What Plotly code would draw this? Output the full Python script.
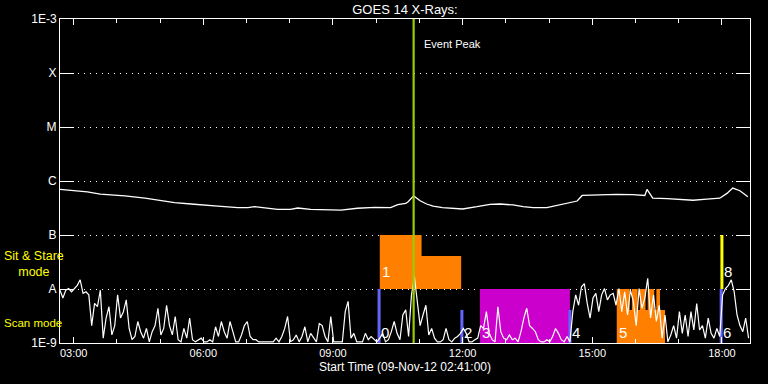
import math
import pandas as pd
import plotly.graph_objects as go

DAY = "2012-11-09 "

# ---------------- data ----------------
# GOES long channel (1-8 A), W/m^2
hi_time = ["02:41", "02:52", "03:19", "03:37", "04:11", "04:39", "04:57", "05:20", "05:43", "06:02",
           "06:20", "06:48", "07:02", "07:11", "07:25", "07:43", "08:01", "08:11", "08:29", "08:57",
           "09:11", "09:34", "09:58", "10:20", "10:30", "10:41", "10:44", "10:52", "11:01", "11:10",
           "11:19", "11:32", "12:00", "12:20", "12:38", "12:52", "13:10", "13:24", "13:38", "13:57",
           "14:11", "14:25", "14:39", "14:46", "15:11", "15:34", "15:56", "16:13", "16:16", "16:20",
           "16:24", "16:44", "17:02", "17:20", "17:39", "17:57", "18:07", "18:15", "18:25", "18:36"]
hi_flux = [7.0e-7, 6.8e-7, 6.3e-7, 5.7e-7, 5.3e-7, 4.8e-7, 4.4e-7, 3.96e-7, 3.75e-7, 3.64e-7,
           3.44e-7, 3.2e-7, 3.2e-7, 3.35e-7, 3.16e-7, 2.99e-7, 2.99e-7, 3.16e-7, 2.99e-7, 2.99e-7,
           2.9e-7, 3.13e-7, 3.26e-7, 3.2e-7, 3.64e-7, 3.86e-7, 4.08e-7, 5.3e-7, 4.3e-7, 3.75e-7,
           3.44e-7, 3.2e-7, 3.03e-7, 3.34e-7, 3.7e-7, 3.75e-7, 3.6e-7, 3.34e-7, 3.2e-7, 3.2e-7,
           3.49e-7, 3.86e-7, 4.26e-7, 5.4e-7, 5.57e-7, 5.65e-7, 5.57e-7, 5.4e-7, 7.0e-7, 5.7e-7,
           4.8e-7, 4.7e-7, 4.5e-7, 4.4e-7, 4.6e-7, 4.8e-7, 5.9e-7, 7.4e-7, 6.6e-7, 5.1e-7]

# GOES short channel (0.5-4 A), 4-minute samples from 02:41, in units of 1e-9 W/m^2
lo_start = DAY + "02:41"
lo_cadence_min = 4
lo_flux_nW = [
    9.5, 6.8, 9.5, 10.2, 8.9, 10, 11.7, 14.8, 8.3, 8.9, 7.8, 2.1, 5.4, 4.7, 9.5, 1.23, 2.9, 4.7, 1.41, 2.1,
    7.8, 2.9, 3.8, 6.3, 1.86, 1.15, 1.32, 2.5, 1.62, 1.23, 1.86, 1.05, 1.62, 2.1, 4.4, 1.41, 1.86, 5.0, 2.1, 1.41,
    3.1, 1.15, 1.05, 1.86, 1.23, 2.9, 1.15, 1.05, 1.15, 1.23, 1.05, 1.05, 1.15, 1.05, 2.0, 1.32, 2.5, 1.62, 1.23, 2.5,
    1.62, 1.05, 1.05, 1.41, 2.1, 2.5, 1.32, 1.15, 1.15, 1.05, 1.05, 1.05, 1.05, 1.05, 1.05, 1.23, 1.05, 1.32, 1.86, 3.1,
    1.05, 1.15, 1.41, 1.05, 1.32, 2.0, 1.05, 1.51, 1.23, 1.05, 2.3, 2.1, 1.32, 1.05, 3.1, 1.05, 1.05, 1.05, 1.05, 3.8,
    5.9, 1.23, 1.51, 1.05, 1.05, 1.05, 1.51, 1.15, 1.32, 1.15, 1.05, 1.23, 1.51, 1.05, 1.15, 1.62, 2.5, 1.51, 1.15, 3.3,
    4.1, 1.32, 7.8, 17, 5.9, 2.1, 3.3, 5.0, 1.41, 1.86, 1.23, 1.05, 1.05, 1.15, 1.86, 1.15, 1.05, 1.23, 1.32, 1.51,
    1.86, 1.51, 1.05, 1.05, 1.15, 1.23, 2.1, 1.86, 3.8, 1.51, 1.15, 1.05, 4.7, 1.62, 1.23, 1.15, 1.41, 1.15, 1.23, 1.05,
    1.62, 2.9, 4.4, 2.1, 1.86, 1.62, 1.15, 1.05, 1.05, 1.15, 1.05, 1.32, 1.86, 1.51, 1.15, 1.05, 1.32, 1.05, 3.8,
    7.8, 5.0, 11, 12.6, 5.4, 2.9, 6.8, 8.3, 3.8, 7.8, 10.2, 6.3, 7.8, 8.3, 5.0, 10.2, 3.8, 8.9, 3.3, 9.5,
    5.9, 2.1, 10.2, 4.4, 6.8, 15.8, 2.9, 7.8, 2.5, 5.0, 1.23, 3.3, 1.05, 1.41, 2.1, 1.23, 3.8, 1.51, 3.3, 1.32,
    3.8, 1.74, 5.4, 1.74, 2.1, 1.23, 2.9, 1.51, 1.23, 1.86, 1.32, 7.8, 10.2, 11.7, 14.8, 8.9, 3.3, 2.1, 1.62, 2.9, 1.23]

# Observation blocks (rectangles): start, end, bottom, top
sns_start = ["10:05", "11:03"]
sns_end = ["11:03", "11:58"]
sns_bottom = [1e-8, 1e-8]
sns_top = [1.0e-7, 4.1e-8]

scan_mag_start = ["12:24"]
scan_mag_end = ["14:29"]
scan_mag_bottom = [1e-9]
scan_mag_top = [1e-8]

scan_or_start = ["15:34", "15:34", "15:55", "16:06", "16:17", "16:29"]
scan_or_end = ["16:41", "15:52", "16:03", "16:14", "16:26", "16:34"]
scan_or_bottom = [1e-9, 1e-9, 1e-9, 1e-9, 1e-9, 1e-9]
scan_or_top = [4.1e-9, 1e-8, 1e-8, 1e-8, 1e-8, 1e-8]

# thin markers
blue_time = ["10:04", "11:59", "14:29", "17:59"]
blue_top = [1e-8, 4.1e-9, 4.1e-9, 1e-8]
yellow_time = ["18:00"]
yellow_bottom = [1e-8]
yellow_top = [1e-7]

# observation labels
obs_label = ["0", "1", "2", "3", "4", "5", "6", "8"]
obs_time = ["10:04", "10:05", "11:59", "12:24", "14:29", "15:34", "17:59", "18:00"]
obs_level = [1.55e-9, 2.1e-8, 1.55e-9, 1.55e-9, 1.55e-9, 1.55e-9, 1.55e-9, 2.1e-8]

event_peak = "10:52"
event_label_level = 3.5e-4

mode_label = ["Sit & Stare<br>mode", "Scan mode"]
mode_level = [2.85e-8, 2.35e-9]
mode_font_size = [12.5, 11.5]

y_tickvals = [1e-9, 1e-8, 1e-7, 1e-6, 1e-5, 1e-4, 1e-3]
y_ticktext = ["1E-9", "A", "B", "C", "M", "X", "1E-3"]

x_range = ["02:41", "18:39"]

# ---------------- figure ----------------
def T(s):
    return DAY + s


def rects(starts, ends, bots, tops):
    xs, ys = [], []
    for s, e, b, t in zip(starts, ends, bots, tops):
        xs += [T(s), T(s), T(e), T(e), T(s), None]
        ys += [b, t, t, b, b, None]
    return xs, ys


def vlines(times, bots, tops):
    xs, ys = [], []
    for s, b, t in zip(times, bots, tops):
        xs += [T(s), T(s), None]
        ys += [b, t, None]
    return xs, ys


fig = go.Figure()

for (st, en, bo, to, col) in [
    (sns_start, sns_end, sns_bottom, sns_top, "#ff8000"),
    (scan_mag_start, scan_mag_end, scan_mag_bottom, scan_mag_top, "#cc00cc"),
    (scan_or_start, scan_or_end, scan_or_bottom, scan_or_top, "#ff8000"),
]:
    xs, ys = rects(st, en, bo, to)
    fig.add_trace(go.Scatter(x=xs, y=ys, mode="lines", fill="toself", fillcolor=col,
                             line=dict(width=0, color=col), hoverinfo="skip"))

xs, ys = vlines(blue_time, [1e-9] * len(blue_time), blue_top)
fig.add_trace(go.Scatter(x=xs, y=ys, mode="lines", line=dict(color="#6464ff", width=3)))
xs, ys = vlines(yellow_time, yellow_bottom, yellow_top)
fig.add_trace(go.Scatter(x=xs, y=ys, mode="lines", line=dict(color="#ffff00", width=3)))

lo_time = pd.date_range(lo_start, periods=len(lo_flux_nW), freq=f"{lo_cadence_min}min")
fig.add_trace(go.Scatter(x=lo_time, y=[v * 1e-9 for v in lo_flux_nW], mode="lines",
                         line=dict(color="white", width=1.2)))
fig.add_trace(go.Scatter(x=[T(t) for t in hi_time], y=hi_flux, mode="lines",
                         line=dict(color="white", width=1.3)))

fig.add_trace(go.Scatter(x=[T(event_peak), T(event_peak)], y=[y_tickvals[0], y_tickvals[-1]],
                         mode="lines", line=dict(color="#99cc00", width=2.2)))

LBL_FONT = "Liberation Sans"
for lab, t, lv in zip(obs_label, obs_time, obs_level):
    fig.add_annotation(x=T(t), y=math.log10(lv), yref="y", text=lab, showarrow=False,
                       xanchor="left", yanchor="middle", xshift=0,
                       font=dict(color="white", size=15, family=LBL_FONT))

fig.add_annotation(x=T(event_peak), y=math.log10(event_label_level), yref="y", text="Event Peak",
                   showarrow=False, xanchor="left", yanchor="middle", xshift=8,
                   font=dict(color="white", size=11, family=LBL_FONT))

for lab, lv, fs in zip(mode_label, mode_level, mode_font_size):
    fig.add_annotation(x=-0.084, xref="paper", y=math.log10(lv), yref="y", text=lab,
                       showarrow=False, xanchor="left", yanchor="middle", align="center",
                       font=dict(color="#ffff00", size=fs, family=LBL_FONT))

fig.update_layout(
    width=768, height=384,
    margin=dict(l=60, r=18, t=19, b=41),
    paper_bgcolor="black", plot_bgcolor="black",
    showlegend=False,
    font=dict(family=LBL_FONT, color="white", size=12),
    title=dict(text="GOES 14 X-Rays:", x=405 / 768, xanchor="center", y=1 - 9 / 384,
               yanchor="middle", font=dict(size=13, color="white", family=LBL_FONT)),
)

fig.update_xaxes(
    type="date", range=[T(x_range[0]), T(x_range[1])],
    tick0=T("00:00"), dtick=3 * 3600 * 1000, tickformat="%H:%M",
    ticks="inside", ticklen=6, tickcolor="white", tickwidth=1,
    minor=dict(dtick=3600 * 1000, ticks="inside", ticklen=4, tickcolor="white", showgrid=False),
    showline=True, linecolor="white", linewidth=1, mirror="ticks",
    showgrid=False, zeroline=False,
    tickfont=dict(size=11, color="white"),
    title=dict(text="Start Time (09-Nov-12 02:41:00)", font=dict(size=12, color="white"), standoff=4),
)
fig.update_yaxes(
    type="log", range=[-9, -3],
    tickvals=y_tickvals, ticktext=y_ticktext,
    ticks="inside", ticklen=14, tickcolor="white", tickwidth=1,
    showline=True, linecolor="white", linewidth=1, mirror="ticks",
    showgrid=True, gridcolor="white", gridwidth=1, griddash="1px,5px",
    zeroline=False,
    tickfont=dict(size=12, color="white"),
)

fig.write_html("out.html")
